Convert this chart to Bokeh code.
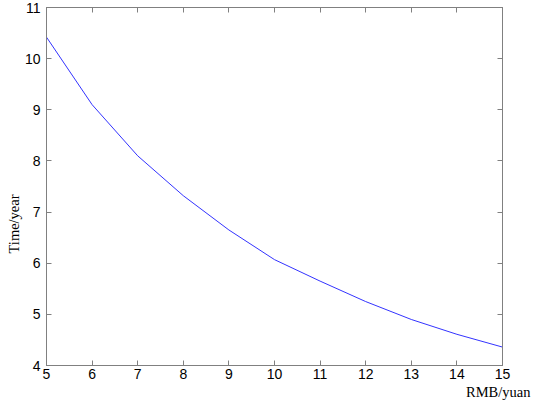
import math
from bokeh.plotting import figure
from bokeh.models import Range1d, LinearAxis, FixedTicker, Title
from bokeh.embed import file_html
from bokeh.resources import INLINE

# Data
rmb = [5, 6, 7, 8, 9, 10, 11, 12, 13, 14, 15]
time_years = [10.42, 9.10, 8.10, 7.32, 6.65, 6.07, 5.65, 5.25, 4.90, 4.61, 4.36]
x_ticks = [5, 6, 7, 8, 9, 10, 11, 12, 13, 14, 15]
y_ticks = [4, 5, 6, 7, 8, 9, 10, 11]
x_label = "RMB/yuan"
y_label = "Time/year"

AXIS_COLOR = "#808080"
TICK_FONT = "Liberation Sans"
LABEL_FONT = "Liberation Serif"

p = figure(width=533, height=409, output_backend="svg", toolbar_location=None,
           x_range=Range1d(5, 15), y_range=Range1d(4, 11),
           min_border_left=46, min_border_right=31, min_border_top=7, min_border_bottom=44,
           x_axis_location=None, y_axis_location=None)
p.grid.visible = False
p.outline_line_color = AXIS_COLOR
p.outline_line_width = 1
p.background_fill_color = "white"
p.border_fill_color = "white"

p.line(rmb, time_years, line_color="#3333ff", line_width=1)


def make_axis(ticks, show_labels, standoff=6):
    ax = LinearAxis(ticker=FixedTicker(ticks=ticks))
    ax.axis_line_color = AXIS_COLOR
    ax.major_tick_line_color = AXIS_COLOR
    ax.major_tick_in = 5
    ax.major_tick_out = 0
    ax.minor_tick_line_color = None
    ax.major_label_text_font = TICK_FONT
    ax.major_label_text_color = "black"
    ax.major_label_text_font_size = "14px"
    if show_labels:
        ax.major_label_standoff = standoff
    else:
        ax.major_label_overrides = {t: "" for t in ticks}
        ax.major_label_standoff = 0
    return ax


p.add_layout(make_axis(x_ticks, True, standoff=3), "below")
p.add_layout(make_axis(y_ticks, True, standoff=6), "left")
p.add_layout(make_axis(x_ticks, False), "above")
p.add_layout(make_axis(y_ticks, False), "right")

xt = Title(text=x_label, align="right", offset=-28, text_font=LABEL_FONT,
           text_font_size="14.5px", text_font_style="normal", text_color="black",
           standoff=0)
p.add_layout(xt, "below")

yt = Title(text=y_label, align="left", offset=112, text_font=LABEL_FONT,
           text_font_size="14.5px", text_font_style="normal", text_color="black",
           standoff=0)
p.add_layout(yt, "left")

open("out.html", "w").write(file_html(p, INLINE))
